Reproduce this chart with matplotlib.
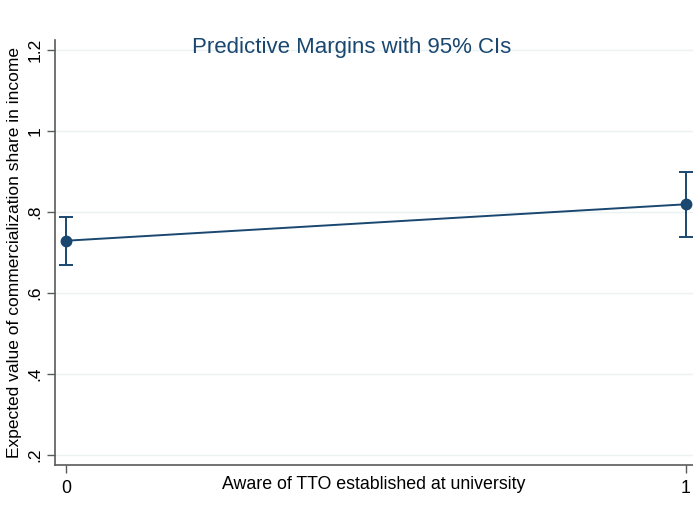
import matplotlib
matplotlib.use("Agg")
import matplotlib.pyplot as plt

# predictive margins
aware = [0, 1]
margin = [0.729, 0.819]
ci_low = [0.668, 0.739]
ci_high = [0.788, 0.898]

y_ticks = [0.2, 0.4, 0.6, 0.8, 1.0, 1.2]
y_labels = [".2", ".4", ".6", ".8", "1", "1.2"]
x_ticks = [0, 1]
x_labels = ["0", "1"]

NAVY = "#1a476f"
GRID = "#eaf2f3"
AXIS = "#5a5a5a"

plt.rcParams["font.family"] = ["Liberation Sans", "DejaVu Sans"]

fig = plt.figure(figsize=(6.93, 5.12), dpi=100, facecolor="white")
ax = fig.add_axes([0.0794, 0.0918, 0.9206, 0.8302])

ax.set_ylim(0.175, 1.225)
ax.set_xlim(-0.018, 1.012)

for y in y_ticks:
    ax.axhline(y, color=GRID, linewidth=1.0, zorder=0)

yerr = [[m - lo for m, lo in zip(margin, ci_low)],
        [hi - m for m, hi in zip(margin, ci_high)]]
ax.errorbar(aware, margin, yerr=yerr, fmt="none", ecolor=NAVY,
            elinewidth=1.4, capsize=5, capthick=1.4, zorder=2)
ax.plot(aware, margin, color=NAVY, linewidth=1.4, marker="o",
        markersize=7.5, zorder=3)

ax.set_yticks(y_ticks)
ax.set_yticklabels(y_labels, rotation=90, va="center", fontsize=12.5)
ax.set_xticks(x_ticks)
ax.set_xticklabels(x_labels, fontsize=12.8)
ax.tick_params(axis="both", direction="out", length=6, width=1,
               color=AXIS, labelcolor="black", pad=3)
ax.tick_params(axis="x", pad=5)

for side in ["top", "right"]:
    ax.spines[side].set_visible(False)
for side in ["left", "bottom"]:
    ax.spines[side].set_color(AXIS)
    ax.spines[side].set_linewidth(1.2)

ax.set_ylabel("Expected value of commercialization share in income",
              fontsize=12.5, labelpad=4)
ax.set_xlabel("Aware of TTO established at university", fontsize=12.8,
              labelpad=-15)
fig.text(0.508, 0.908, "Predictive Margins with 95% CIs", color=NAVY,
         fontsize=16, ha="center", va="center")

fig.savefig("out.png", dpi=100, facecolor="white")
